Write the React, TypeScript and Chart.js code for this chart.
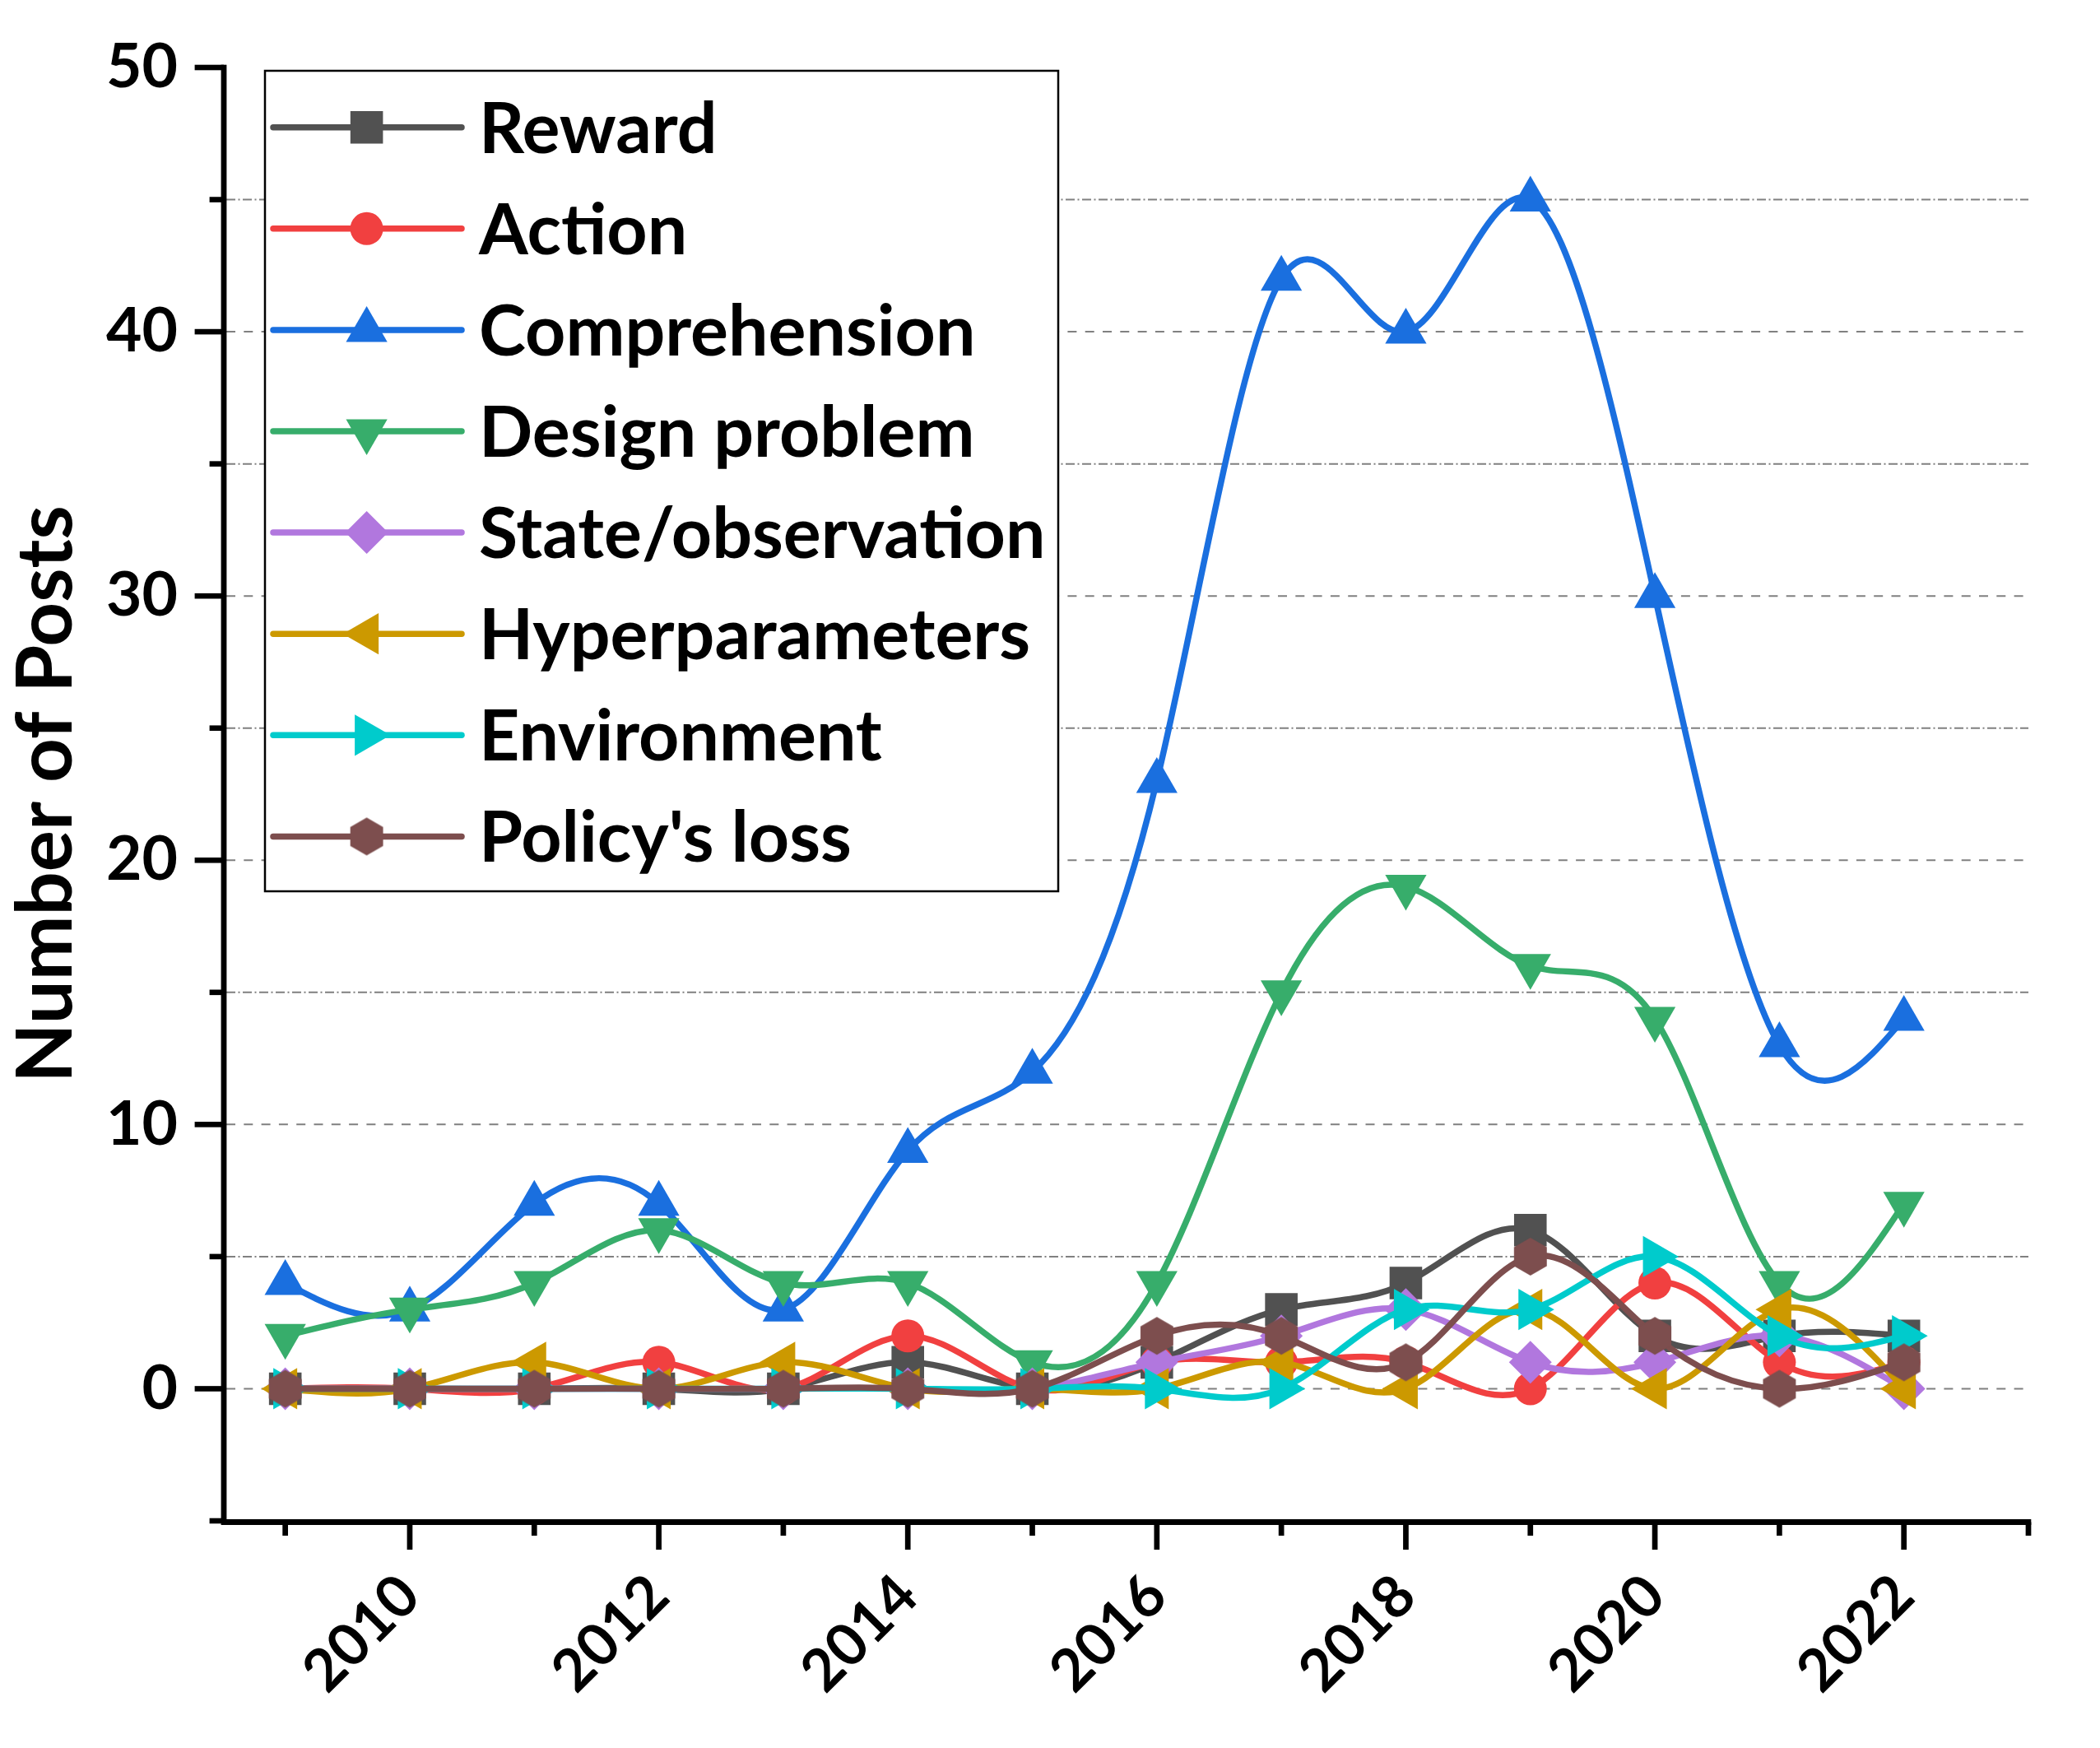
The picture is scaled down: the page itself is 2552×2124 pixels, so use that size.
import React, { useEffect, useRef } from 'react';
import { Chart, registerables } from 'chart.js';
import { drawPoint } from 'chart.js/helpers';

Chart.register(...registerables);

// ---------------- data ----------------
const YEARS = [2009, 2010, 2011, 2012, 2013, 2014, 2015, 2016, 2017, 2018, 2019, 2020, 2021, 2022];
const X_TICK_YEARS = [2009, 2010, 2011, 2012, 2013, 2014, 2015, 2016, 2017, 2018, 2019, 2020, 2021, 2022, 2023];

const REWARD = [0, 0, 0, 0, 0, 1, 0, 1, 3, 4, 6, 2, 2, 2];
const ACTION = [0, 0, 0, 1, 0, 2, 0, 1, 1, 1, 0, 4, 1, 1];
const COMPREHENSION = [4, 3, 7, 7, 3, 9, 12, 23, 42, 40, 45, 30, 13, 14];
const DESIGN_PROBLEM = [2, 3, 4, 6, 4, 4, 1, 4, 15, 19, 16, 14, 4, 7];
const STATE_OBSERVATION = [0, 0, 0, 0, 0, 0, 0, 1, 2, 3, 1, 1, 2, 0];
const HYPERPARAMETERS = [0, 0, 1, 0, 1, 0, 0, 0, 1, 0, 3, 0, 3, 0];
const ENVIRONMENT = [0, 0, 0, 0, 0, 0, 0, 0, 0, 3, 3, 5, 2, 2];
const POLICY_LOSS = [0, 0, 0, 0, 0, 0, 0, 2, 2, 1, 5, 2, 0, 1];

const SERIES_LABELS = [
  'Reward',
  'Action',
  'Comprehension',
  'Design problem',
  'State/observation',
  'Hyperparameters',
  'Environment',
  "Policy's loss",
];
const SERIES_VALUES = [
  REWARD,
  ACTION,
  COMPREHENSION,
  DESIGN_PROBLEM,
  STATE_OBSERVATION,
  HYPERPARAMETERS,
  ENVIRONMENT,
  POLICY_LOSS,
];
const SERIES_COLORS = ['#515151', '#F14040', '#1A6FDF', '#37AD6B', '#B177DE', '#CC9900', '#00CBCC', '#7D4E4E'];

// ---------------- styles ----------------
const FONT = 'Lato';
const LINE_WIDTH = 7.5;

function makeHexagon(color: string): HTMLCanvasElement {
  const c = document.createElement('canvas');
  c.width = 42;
  c.height = 48;
  const g = c.getContext('2d')!;
  const R = 23;
  g.fillStyle = color;
  g.beginPath();
  for (let k = 0; k < 6; k++) {
    const a = (-90 + 60 * k) * Math.PI / 180;
    const px = 21 + R * Math.cos(a);
    const py = 24 + R * Math.sin(a);
    if (k === 0) g.moveTo(px, py);
    else g.lineTo(px, py);
  }
  g.closePath();
  g.fill();
  return c;
}

function markerFor(i: number): { pointStyle: any; radius: number; rotation: number } {
  switch (i) {
    case 0: return { pointStyle: 'rect', radius: 28, rotation: 0 };
    case 1: return { pointStyle: 'circle', radius: 20, rotation: 0 };
    case 2: return { pointStyle: 'triangle', radius: 29, rotation: 0 };
    case 3: return { pointStyle: 'triangle', radius: 29, rotation: 180 };
    case 4: return { pointStyle: 'rectRot', radius: 26, rotation: 0 };
    case 5: return { pointStyle: 'triangle', radius: 29, rotation: -90 };
    case 6: return { pointStyle: 'triangle', radius: 29, rotation: 90 };
    default: return { pointStyle: makeHexagon(SERIES_COLORS[7]), radius: 23, rotation: 0 };
  }
}

// natural cubic spline through the points (like Origin's "Spline" connection)
const naturalSplinePlugin = {
  id: 'naturalSpline',
  beforeDatasetDraw(chart: any, args: any) {
    const meta = args.meta;
    const line: any = meta.dataset;
    if (!line) return;
    line.updateControlPoints(chart.chartArea, 'x');
    const pts: any[] = meta.data;
    const n = pts.length;
    if (n < 3) return;
    const xs = pts.map((p) => p.x);
    const ys = pts.map((p) => p.y);
    const h: number[] = [];
    for (let i = 0; i < n - 1; i++) h[i] = xs[i + 1] - xs[i];
    const M = new Array(n).fill(0);
    const cp: number[] = [];
    const dp: number[] = [];
    for (let i = 1; i < n - 1; i++) {
      const a = h[i - 1];
      const b = 2 * (h[i - 1] + h[i]);
      const c = h[i];
      const d = 6 * ((ys[i + 1] - ys[i]) / h[i] - (ys[i] - ys[i - 1]) / h[i - 1]);
      const m = b - (i > 1 ? a * cp[i - 1] : 0);
      cp[i] = c / m;
      dp[i] = (d - (i > 1 ? a * dp[i - 1] : 0)) / m;
    }
    for (let i = n - 2; i >= 1; i--) {
      M[i] = dp[i] - cp[i] * M[i + 1];
    }
    for (let i = 0; i < n; i++) {
      let s: number;
      if (i < n - 1) s = (ys[i + 1] - ys[i]) / h[i] - (h[i] * (2 * M[i] + M[i + 1])) / 6;
      else s = (ys[i] - ys[i - 1]) / h[i - 1] + (h[i - 1] * (M[i - 1] + 2 * M[i])) / 6;
      const p = pts[i];
      if (i > 0) {
        const hh = h[i - 1] / 3;
        p.cp1x = xs[i] - hh;
        p.cp1y = ys[i] - s * hh;
      }
      if (i < n - 1) {
        const hh = h[i] / 3;
        p.cp2x = xs[i] + hh;
        p.cp2y = ys[i] + s * hh;
      }
    }
    delete line._path;
  },
};

const originAxesPlugin = {
  id: 'originAxes',
  beforeDatasetsDraw(chart: any) {
    const { ctx, chartArea } = chart;
    const ys = chart.scales.y;
    ctx.save();
    ctx.strokeStyle = '#808080';
    ctx.lineWidth = 2;
    for (const t of ys.ticks) {
      const v = t.value;
      if (v <= ys.min || v >= ys.max) continue;
      const py = ys.getPixelForValue(v);
      ctx.setLineDash(v % 10 === 0 ? [11, 10.3] : [11, 3.5, 2, 3.5]);
      ctx.beginPath();
      ctx.moveTo(chartArea.left + 4, py);
      ctx.lineTo(chartArea.right, py);
      ctx.stroke();
    }
    ctx.restore();
  },
  afterDatasetsDraw(chart: any) {
    const { ctx, chartArea } = chart;
    const xs = chart.scales.x;
    const ys = chart.scales.y;
    const ax = chartArea.left + 1;
    const halfW = 3.4;
    ctx.save();
    ctx.fillStyle = '#000';
    // y axis line
    ctx.fillRect(ax - halfW, chartArea.top - 3.3, 2 * halfW, chartArea.bottom - chartArea.top + 6);
    // y ticks (outward)
    for (const t of ys.ticks) {
      const v = t.value;
      const py = ys.getPixelForValue(v);
      const len = v % 10 === 0 ? 32 : 14;
      ctx.fillRect(ax - halfW - len, py - 3.3, len + halfW, 6.6);
    }
    // x axis line
    const axY = chartArea.bottom + 1.5;
    ctx.fillRect(ax - halfW, axY - 3.5, chartArea.right - ax + halfW + 3.3, 7);
    // x ticks
    for (const t of xs.ticks) {
      const v = t.value;
      const px = xs.getPixelForValue(v);
      const len = v % 2 === 0 ? 30 : 13;
      ctx.fillRect(px - 3.35, axY, 6.7, 3.5 + len);
    }
    ctx.restore();
  },
  afterDraw(chart: any) {
    const { ctx, chartArea } = chart;
    const left = chartArea.left + 51;
    const top = chartArea.top + 4;
    const right = left + 964;
    const bottom = top + 997;
    ctx.save();
    ctx.fillStyle = '#fff';
    ctx.fillRect(left, top, right - left, bottom - top);
    ctx.strokeStyle = '#000';
    ctx.lineWidth = 2.5;
    ctx.strokeRect(left, top, right - left, bottom - top);
    const rowY0 = top + 68.7;
    const rowDy = 123.1;
    const fontSize = 86;
    chart.data.datasets.forEach((ds: any, i: number) => {
      const y = rowY0 + i * rowDy;
      ctx.strokeStyle = ds.borderColor;
      ctx.lineWidth = LINE_WIDTH;
      ctx.lineCap = 'round';
      ctx.beginPath();
      ctx.moveTo(left + 10, y);
      ctx.lineTo(left + 239, y);
      ctx.stroke();
      ctx.fillStyle = ds.borderColor;
      drawPoint(ctx, { pointStyle: ds.pointStyle, radius: ds.pointRadius, rotation: ds.pointRotation, borderWidth: 0 } as any, left + 123.6, y);
      ctx.fillStyle = '#000';
      ctx.font = `bold ${fontSize}px ${FONT}`;
      ctx.textAlign = 'left';
      ctx.textBaseline = 'alphabetic';
      ctx.fillText(ds.label, left + 260, y + fontSize * 0.3583);
    });
    ctx.restore();
  },
};

export default function App() {
  const ref = useRef<HTMLCanvasElement | null>(null);

  useEffect(() => {
    document.body.style.margin = '0';
    const canvas = ref.current!;
    const datasets = SERIES_LABELS.map((label, i) => {
      const mk = markerFor(i);
      return {
        label,
        data: YEARS.map((yr, j) => ({ x: yr, y: SERIES_VALUES[i][j] })),
        borderColor: SERIES_COLORS[i],
        backgroundColor: SERIES_COLORS[i],
        pointBackgroundColor: SERIES_COLORS[i],
        pointBorderColor: SERIES_COLORS[i],
        pointBorderWidth: 0,
        borderWidth: LINE_WIDTH,
        borderCapStyle: 'round',
        borderJoinStyle: 'round',
        pointStyle: mk.pointStyle,
        pointRadius: mk.radius,
        pointHoverRadius: mk.radius,
        pointRotation: mk.rotation,
        tension: 0.4,
        fill: false,
        order: SERIES_LABELS.length - i,
        clip: false as any,
      };
    });

    const chart = new Chart(canvas, {
      type: 'line',
      data: { datasets: datasets as any },
      options: {
        animation: false,
        responsive: false,
        maintainAspectRatio: false,
        devicePixelRatio: 1,
        events: [],
        layout: { padding: { top: 82, right: 87, left: 0, bottom: 0 } },
        plugins: {
          legend: { display: false },
          tooltip: { enabled: false },
        },
        scales: {
          x: {
            type: 'linear',
            min: 2008.5,
            max: 2023,
            grid: { display: false, drawTicks: false },
            border: { display: false },
            afterBuildTicks: (s: any) => {
              s.ticks = X_TICK_YEARS.map((v) => ({ value: v }));
            },
            afterFit: (s: any) => {
              s.height = 276;
              s.paddingLeft = 0;
              s.paddingRight = 0;
            },
            ticks: {
              autoSkip: false,
              minRotation: 45,
              maxRotation: 45,
              padding: 49,
              color: '#000',
              font: { family: FONT, size: 71, weight: 'bold' },
              callback: (v: any) => (Number(v) % 2 === 0 ? String(v) : ''),
            },
          },
          y: {
            type: 'linear',
            min: -5,
            max: 50,
            grid: { display: false, drawTicks: false },
            border: { display: false },
            afterFit: (s: any) => {
              s.width = 271;
              s.paddingTop = 0;
              s.paddingBottom = 0;
            },
            ticks: {
              stepSize: 5,
              padding: 55,
              color: '#000',
              font: { family: FONT, size: 75, weight: 'bold' },
              callback: (v: any) => (Number(v) % 10 === 0 ? String(v) : ''),
            },
            title: {
              display: true,
              text: 'Number of Posts',
              color: '#000',
              padding: 0,
              font: { family: FONT, size: 94, weight: 'bold' },
            },
          },
        },
      },
      plugins: [naturalSplinePlugin, originAxesPlugin],
    });
    return () => chart.destroy();
  }, []);

  return <canvas ref={ref} width={2552} height={2124} style={{ display: 'block' }} />;
}
